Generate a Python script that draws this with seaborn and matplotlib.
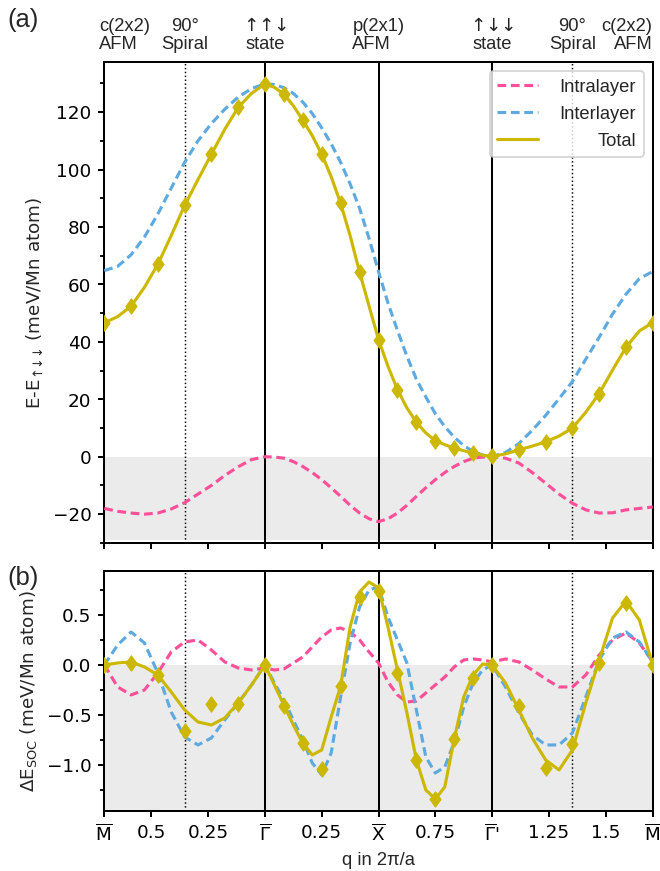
import numpy as np
import pandas as pd
import matplotlib
matplotlib.use("Agg")
import matplotlib.pyplot as plt
import seaborn as sns
from matplotlib.ticker import MultipleLocator
from matplotlib.path import Path

sns.set_style("ticks")
plt.rcParams['font.family'] = ['DejaVu Sans']
plt.rcParams['mathtext.fontset'] = 'dejavusans'
plt.rcParams['axes.linewidth'] = 1.1
plt.rcParams['xtick.color'] = 'black'
plt.rcParams['ytick.color'] = 'black'
plt.rcParams['axes.edgecolor'] = 'black'
ARIAL = ['Liberation Sans', 'DejaVu Sans']

# ---------------- data ----------------
L1 = np.sqrt(2) / 2          # |M - Gamma| in 2pi/a
# path coordinate of the sampled q points: 4 segments, 12 steps each
s_grid = np.concatenate([np.linspace(0, L1, 13),
                         L1 + np.linspace(0, 0.5, 13)[1:],
                         L1 + 0.5 + np.linspace(0, 0.5, 13)[1:],
                         L1 + 1.0 + np.linspace(0, L1, 13)[1:]])

tick_pos = [0, L1 - 0.5, L1 - 0.25, L1, L1 + 0.25, L1 + 0.5, L1 + 0.75,
            L1 + 1.0, L1 + 1.25, L1 + 1.5, 2 * L1 + 1.0]
tick_labels = [r'$\overline{\mathrm{M}}$', '0.5', '0.25', r'$\overline{\mathrm{\Gamma}}$',
               '0.25', r'$\overline{\mathrm{X}}$', '0.75', r"$\overline{\mathrm{\Gamma}}$'",
               '1.25', '1.5', r'$\overline{\mathrm{M}}$']
state_pos = [0, L1 / 2, L1, L1 + 0.5, L1 + 1.0, L1 + 1.0 + L1 / 2, 2 * L1 + 1.0]
state_labels = ['c(2x2)\nAFM', '90°\nSpiral', '$↑↑↓$\nstate', 'p(2x1)\nAFM',
                '$↑↓↓$\nstate', '90°\nSpiral', 'c(2x2)\nAFM']

# (a) energy, meV/Mn atom
top_intra = [-18.0, -19.0, -19.6, -20.0, -19.6, -18.2, -16.0, -13.0, -10.0, -6.5, -3.5, -1.0, 0.0,
             -0.1, -0.5, -1.7, -3.4, -5.5, -8.0, -10.8, -13.8, -16.9, -19.6, -21.6, -22.6,
             -21.6, -19.6, -16.9, -13.8, -10.8, -8.0, -5.5, -3.4, -1.7, -0.5, -0.1, 0.0,
             -0.5, -2.2, -5.5, -9.2, -13.0, -16.2, -18.5, -19.6, -19.5, -18.5, -18.0, -17.5]
top_inter = [64.8, 66.3, 70.3, 76.5, 84.5, 93.5, 102.5, 110.0, 116.0, 121.0, 125.2, 128.2, 129.8,
             129.6, 128.5, 126.5, 123.5, 119.5, 114.5, 109.0, 102.5, 95.0, 86.5, 76.0, 64.5,
             53.5, 44.0, 35.0, 27.0, 20.8, 15.0, 10.5, 6.8, 3.9, 1.8, 0.6, 0.0,
             1.5, 4.6, 9.2, 14.4, 20.2, 26.2, 34.0, 41.6, 49.7, 56.6, 62.0, 64.5]
top_total = [46.6, 48.8, 52.4, 59.0, 67.0, 77.0, 87.5, 96.5, 105.3, 114.0, 121.6, 126.5, 129.8,
             128.6, 126.3, 122.2, 117.2, 111.8, 105.3, 97.5, 88.2, 77.0, 64.3, 52.5, 40.8,
             31.5, 23.4, 17.0, 12.0, 8.3, 5.6, 4.2, 3.0, 2.1, 1.3, 0.5, 0.1,
             1.0, 2.4, 3.7, 5.2, 7.2, 10.0, 15.5, 22.0, 30.2, 38.1, 43.8, 46.7]

# (b) SOC energy, meV/Mn atom
bot_intra = [0.0, -0.22, -0.30, -0.25, -0.08, 0.13, 0.23, 0.25, 0.15, 0.03, -0.03, -0.05, -0.03,
             -0.05, -0.04, 0.02, 0.08, 0.18, 0.28, 0.35, 0.37, 0.33, 0.25, 0.13, 0.02,
             -0.17, -0.30, -0.37, -0.36, -0.28, -0.20, -0.12, -0.02, 0.05, 0.06, 0.05, 0.03,
             0.06, 0.03, -0.05, -0.14, -0.22, -0.22, -0.10, 0.10, 0.25, 0.32, 0.22, 0.03]
bot_inter = [0.0, 0.20, 0.33, 0.22, -0.08, -0.47, -0.72, -0.80, -0.73, -0.55, -0.38, -0.20, 0.0,
             -0.18, -0.35, -0.55, -0.75, -0.98, -1.10, -0.88, -0.32, 0.22, 0.58, 0.75, 0.78,
             0.48, 0.25, 0.02, -0.45, -0.92, -1.08, -1.02, -0.77, -0.42, -0.18, -0.05, 0.0,
             -0.22, -0.48, -0.70, -0.80, -0.80, -0.68, -0.32, 0.05, 0.27, 0.33, 0.23, 0.03]
bot_total = [0.0, 0.02, 0.03, -0.02, -0.10, -0.27, -0.45, -0.57, -0.60, -0.53, -0.38, -0.20, 0.0,
             -0.20, -0.40, -0.60, -0.78, -0.90, -0.85, -0.52, -0.21, 0.38, 0.73, 0.83, 0.77,
             0.38, -0.05, -0.48, -0.95, -1.25, -1.34, -1.22, -0.74, -0.32, -0.10, 0.01, 0.0,
             -0.18, -0.45, -0.73, -0.95, -1.05, -0.85, -0.38, 0.05, 0.47, 0.64, 0.45, 0.0]
bot_points = [0.0, 0.02, -0.10, -0.66, -0.39, -0.39, 0.0, -0.41, -0.78, -1.04, -0.21, 0.68, 0.74,
              -0.08, -0.95, -1.34, -0.74, -0.13, 0.0, -0.41, -1.03, -0.79, 0.02, 0.62, 0.0]

PINK = '#ff4f98'
BLUE = '#5eaae0'
YEL = '#ccb800'
GRAY = '#ebebeb'
DASH = (0, (2.8, 1.5))
DIAMOND = Path([(0, 1), (0.72, 0), (0, -1), (-0.72, 0), (0, 1)],
               [Path.MOVETO, Path.LINETO, Path.LINETO, Path.LINETO, Path.CLOSEPOLY])

df_top = pd.DataFrame({'s': s_grid, 'Intralayer': top_intra,
                       'Interlayer': top_inter, 'Total': top_total})
df_bot = pd.DataFrame({'s': s_grid, 'Intralayer': bot_intra,
                       'Interlayer': bot_inter, 'Total': bot_total})
pts_top = pd.DataFrame({'s': s_grid[::2], 'v': top_total[::2]})
pts_bot = pd.DataFrame({'s': s_grid[::2], 'v': bot_points})

fig = plt.figure(figsize=(5, 6.6), dpi=132)
ax1 = fig.add_axes([0.158, 0.3766, 0.831, 0.5522])
ax2 = fig.add_axes([0.158, 0.0689, 0.831, 0.2755])

xmax = 2 * L1 + 1.0
for ax, df, pts, ylim, shade in [(ax1, df_top, pts_top, (-30, 137.5), -29),
                                 (ax2, df_bot, pts_bot, (-1.46, 0.94), -1.46)]:
    ax.axhspan(shade, 0, color=GRAY, lw=0, zorder=0)
    for xv in (L1, L1 + 0.5, L1 + 1.0):
        ax.axvline(xv, color='black', lw=1.1, zorder=1)
    for xv in (L1 / 2, L1 + 1.0 + L1 / 2):
        ax.axvline(xv, color='black', lw=0.8, ls=':', zorder=1)
    lab = ax is ax1
    sns.lineplot(data=df, x='s', y='Intralayer', ax=ax, color=PINK, lw=1.7,
                 linestyle=DASH, label='Intralayer' if lab else None, zorder=3, legend=False)
    sns.lineplot(data=df, x='s', y='Interlayer', ax=ax, color=BLUE, lw=1.7,
                 linestyle=DASH, label='Interlayer' if lab else None, zorder=3, legend=False)
    sns.lineplot(data=df, x='s', y='Total', ax=ax, color=YEL, lw=1.7,
                 label='Total' if lab else None, zorder=4, legend=False)
    sns.scatterplot(data=pts, x='s', y='v', ax=ax, marker=DIAMOND, s=70, color=YEL,
                    edgecolor=YEL, linewidth=0.6, zorder=5, legend=False)
    ax.set_xlim(0, xmax)
    ax.set_ylim(*ylim)
    ax.set_xticks(tick_pos)
    ax.tick_params(axis='both', which='major', direction='out', length=3.5, width=1.1,
                   labelsize=10)
    ax.tick_params(axis='y', which='minor', direction='out', length=2, width=1.0)

ax1.set_xticklabels([])
ax1.set_xlabel('')
ax1.yaxis.set_major_locator(MultipleLocator(20))
ax1.yaxis.set_minor_locator(MultipleLocator(10))
ax1.set_ylabel('E-E$_{↑↓↓}$ (meV/Mn atom)', fontsize=10)

ax2.set_xticklabels(tick_labels)
ax2.yaxis.set_major_locator(MultipleLocator(0.5))
ax2.yaxis.set_minor_locator(MultipleLocator(0.25))
ax2.set_ylabel(r'ΔE$_{\mathrm{SOC}}$ (meV/Mn atom)', fontsize=10)
ax2.set_xlabel('q in 2π/a', fontsize=10, family=ARIAL)

# state labels above panel (a)
for xv, txt in zip(state_pos, state_labels):
    if xv == 0:
        ha, ma, dx = 'left', 'left', -3
    elif xv == xmax:
        ha, ma, dx = 'right', 'right', 0
    elif txt.startswith('p('):
        ha, ma, dx = 'center', 'left', 0
    else:
        ha, ma, dx = 'center', 'center', 0
    ax1.annotate(txt, xy=(xv, 1), xycoords=('data', 'axes fraction'),
                 xytext=(dx, 5), textcoords='offset points', ha=ha, va='bottom',
                 multialignment=ma, fontsize=10, family=ARIAL, linespacing=1.1)

fig.text(0.011, 0.977, '(a)', fontsize=14, family=ARIAL, va='center', ha='left')
fig.text(0.011, 0.336, '(b)', fontsize=14, family=ARIAL, va='center', ha='left')

handles, labels = ax1.get_legend_handles_labels()
leg = ax1.legend(handles[:3], labels[:3], loc='upper right', prop={'family': ARIAL, 'size': 10},
                 labelspacing=0.55, handlelength=2.2, handletextpad=1.2, borderpad=0.4)
fig.canvas.draw()
widths = [t.get_window_extent().width for t in leg.get_texts()]
maxw = max(widths)
for t, w in zip(leg.get_texts(), widths):
    t.set_position((maxw - w, 0))

fig.savefig('out.png', dpi=132)
